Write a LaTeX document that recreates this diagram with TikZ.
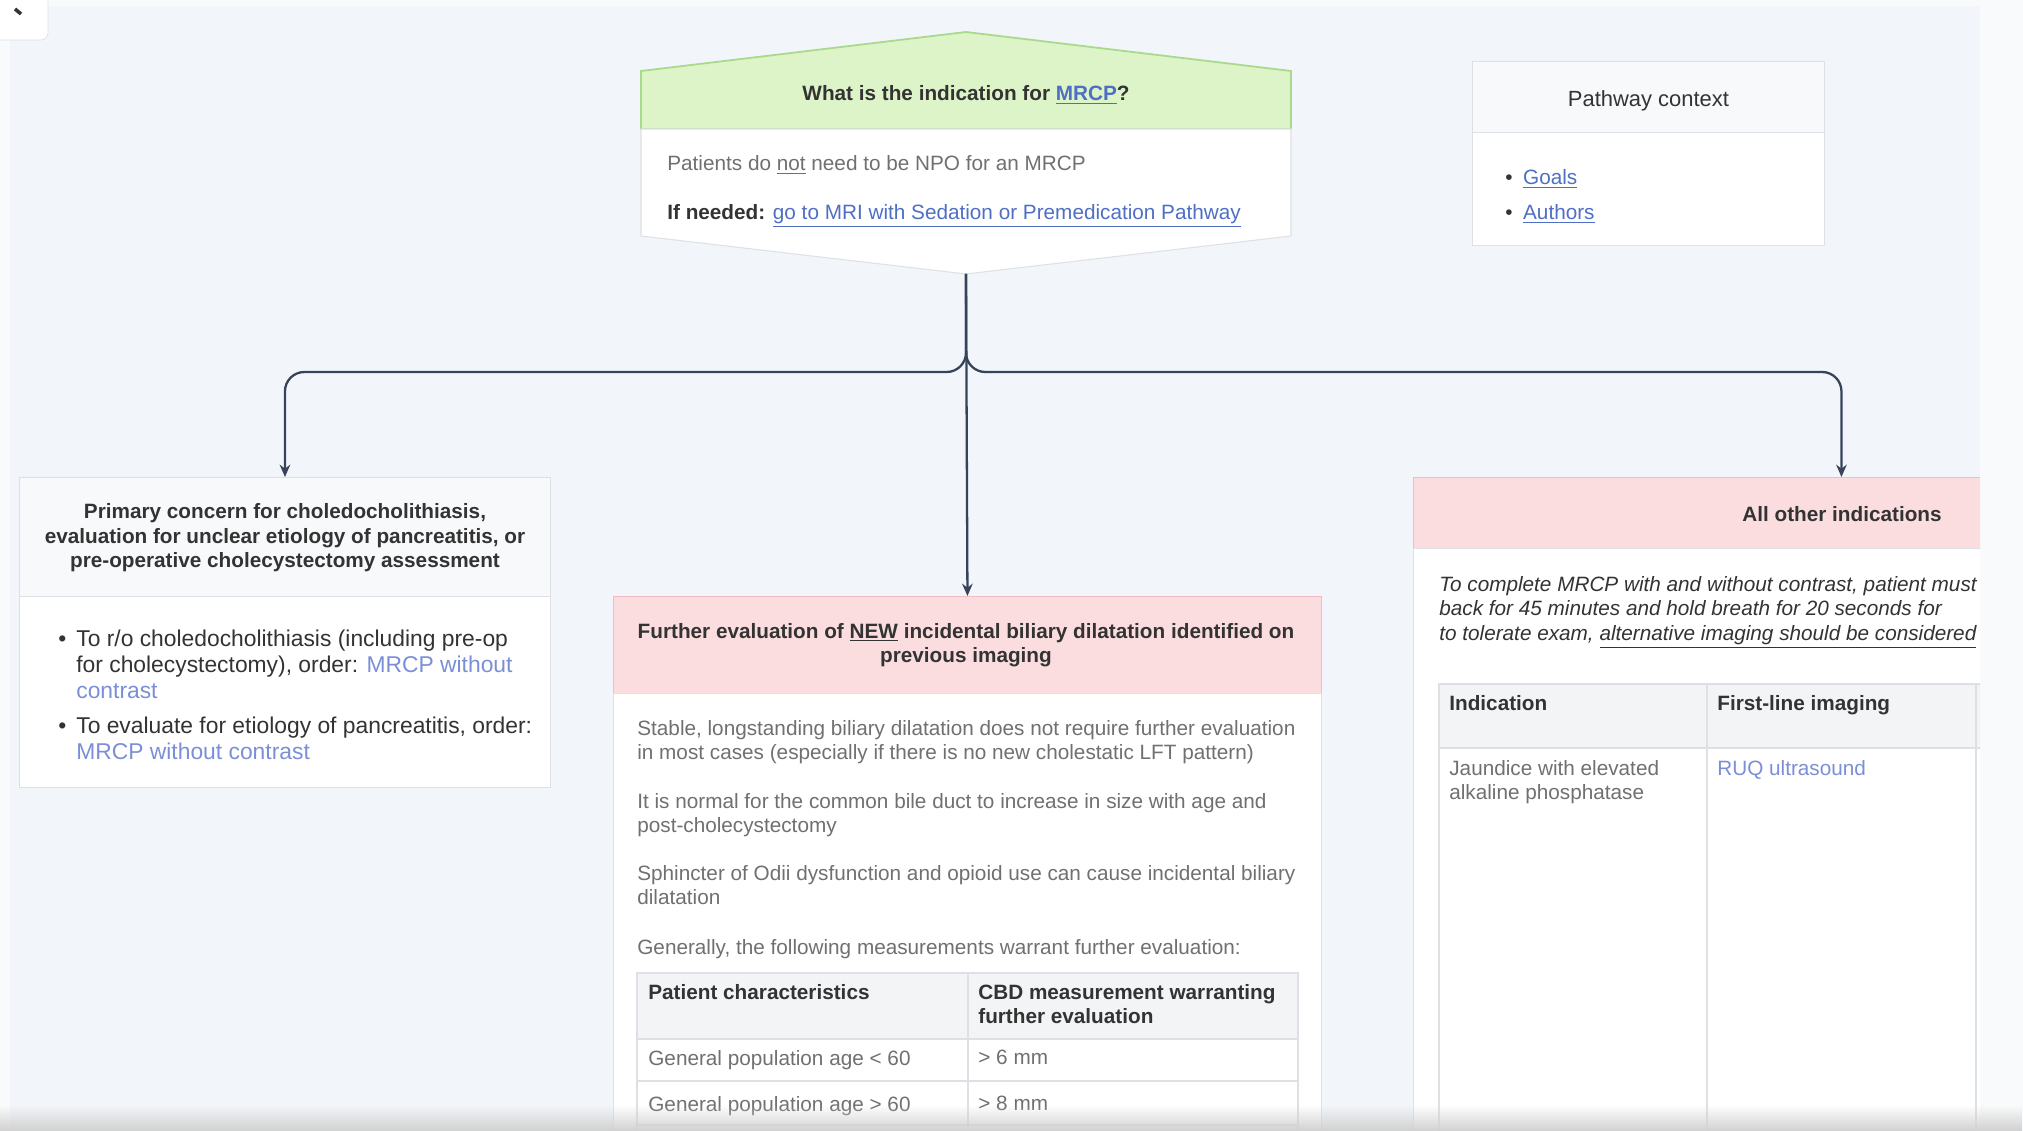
\documentclass[tikz,border=0pt]{standalone}
\usepackage{fontspec}
\setmainfont{Liberation Sans}
\usetikzlibrary{arrows.meta, fadings}
\definecolor{canvas}{HTML}{F2F5F9}
\definecolor{pagewhite}{HTML}{F9FAFB}
\definecolor{greenhead}{HTML}{DDF3C8}
\definecolor{greenline}{HTML}{A9D98B}
\definecolor{pinkhead}{HTML}{FBDDE0}
\definecolor{pinkline}{HTML}{F1BCC2}
\definecolor{greyhead}{HTML}{F8F9FA}
\definecolor{boxline}{HTML}{DDE1E6}
\definecolor{arrowcol}{HTML}{37435A}
\definecolor{bodytext}{HTML}{707070}
\definecolor{darktext}{HTML}{333333}
\definecolor{linkblue}{HTML}{4F6FC4}
\definecolor{lightlink}{HTML}{7B8FD8}
\definecolor{tablehead}{HTML}{F3F4F6}
\begin{document}
\begin{tikzpicture}[x=0.02cm, y=-0.02cm,
  flow/.style = {draw=arrowcol, line width=1.3pt, rounded corners=11pt, -{Stealth[length=7pt, width=6pt]}},
  panel/.style = {draw=boxline, fill=white, line width=0.6pt, anchor=north west, inner sep=0},
  head/.style = {font=\fontsize{11.8}{13.9}\selectfont\bfseries, text=darktext, align=center},
  txt/.style = {font=\fontsize{11.8}{13.9}\selectfont, text=bodytext, align=left, anchor=north west, inner sep=0},
  bold/.style = {font=\fontsize{11.8}{13.9}\selectfont\bfseries, text=darktext},
  big/.style = {font=\fontsize{13}{14.7}\selectfont, text=darktext}]
  \fill[pagewhite] (0,0) rectangle (2023,1131);
  \fill[canvas] (10,6) rectangle (1980,1131);
  \useasboundingbox (0,0) rectangle (2023,1131);
  \filldraw[fill=white, draw=boxline, rounded corners=4pt] (-10,-10) rectangle (48,40);
  \draw[darktext, line width=2pt] (15,9) -- (21,14);
  % decision
  \filldraw[fill=greenhead, draw=greenline, line width=1pt] (641,129) -- (641,71) -- (966,32) -- (1291,71) -- (1291,129) -- cycle;
  \filldraw[fill=white, draw=boxline, line width=0.6pt] (641,129) -- (1291,129) -- (1291,236) -- (966,274) -- (641,236) -- cycle;
  \coordinate (decision) at (966,274);
  \node[head] (question) at (966,95) {What is the indication for \textcolor{linkblue}{\underline{MRCP}}?};
  \node[txt] (npo) at (667,155) {Patients do \underline{not} need to be NPO for an MRCP};
  \node[txt] (ifneeded) at (667,204) {\textcolor{darktext}{\textbf{If needed:}} \textcolor{linkblue}{\underline{go to MRI with Sedation or Premedication Pathway}}};
  % context
  \node[panel, fill=greyhead, minimum width=7.04cm, minimum height=1.42cm] (contexthead) at (1472,61) {};
  \node[panel, minimum width=7.04cm, minimum height=2.26cm] (contextbody) at (1472,132) {};
  \node[font=\fontsize{12.5}{14}\selectfont, text=darktext] (contexttitle) at ([yshift=-2pt]contexthead.center) {Pathway context};
  \node[txt] (goals) at (1505,169) {\textcolor{darktext}{\textbullet}\hspace{6pt}\textcolor{linkblue}{\underline{Goals}}};
  \node[txt] (authors) at (1505,204) {\textcolor{darktext}{\textbullet}\hspace{6pt}\textcolor{linkblue}{\underline{Authors}}};
  % left branch
  \node[panel, fill=greyhead, minimum width=10.62cm, minimum height=2.38cm] (concernhead) at (19,477) {};
  \node[panel, minimum width=10.62cm, minimum height=3.82cm] (concernbody) at (19,596) {};
  \node[head] (concerntitle) at (285,538) {Primary concern for choledocholithiasis,\\ evaluation for unclear etiology of pancreatitis, or\\ pre-operative cholecystectomy assessment};
  \node[txt, big] (stonedot) at (58,628) {\strut\textbullet};
  \node[txt, big] (stones) at (76,628) {\strut To r/o choledocholithiasis (including pre-op\\ for cholecystectomy), order: \textcolor{lightlink}{MRCP without}\\ \textcolor{lightlink}{contrast}};
  \node[txt, big] (pancdot) at (58,715) {\strut\textbullet};
  \node[txt, big] (panc) at (76,715) {\strut To evaluate for etiology of pancreatitis, order:\\ \textcolor{lightlink}{MRCP without contrast}};
  % middle branch
  \node[panel, fill=pinkhead, draw=pinkline, minimum width=14.16cm, minimum height=1.94cm] (dilatationhead) at (613,596) {};
  \node[panel, minimum width=14.16cm, minimum height=8.9cm] (dilatationbody) at (613,693) {};
  \node[head] (dilatationtitle) at (966,645) {Further evaluation of \underline{NEW} incidental biliary dilatation identified on\\ previous imaging};
  \node[txt] (stable) at (637,720) {Stable, longstanding biliary dilatation does not require further evaluation\\ in most cases (especially if there is no new cholestatic LFT pattern)};
  \node[txt] (normal) at (637,793) {It is normal for the common bile duct to increase in size with age and\\ post-cholecystectomy};
  \node[txt] (sphincter) at (637,865) {Sphincter of Odii dysfunction and opioid use can cause incidental biliary\\ dilatation};
  \node[txt] (generally) at (637,939) {Generally, the following measurements warrant further evaluation:};
  \filldraw[fill=tablehead, draw=boxline, line width=0.6pt] (637,973) rectangle (1298,1039);
  \draw[boxline, line width=0.6pt] (637,1039) -- (637,1140) (968,973) -- (968,1140) (1298,1039) -- (1298,1140);
  \foreach \y in {1081,1125}
    \draw[boxline, line width=0.6pt] (637,\y) -- (1298,\y);
  \node[txt, bold] (patienthead) at (648,984) {Patient characteristics};
  \node[txt, bold] (cbdhead) at (978,984) {CBD measurement warranting\\ further evaluation};
  \node[txt] (under60) at (648,1050) {General population age < 60};
  \node[txt] (six) at (978,1050) {> 6 mm};
  \node[txt] (over60) at (648,1096) {General population age > 60};
  \node[txt] (eight) at (978,1096) {> 8 mm};
  % right branch
  \begin{scope}
    \clip (0,0) rectangle (1980,1131);
    \node[panel, fill=pinkhead, draw=pinkline, minimum width=17.12cm, minimum height=1.42cm] (otherhead) at (1413,477) {};
    \node[panel, minimum width=17.12cm, minimum height=11.8cm] (otherbody) at (1413,548) {};
    \node[head] (othertitle) at (1842,514) {All other indications};
    \node[txt, text=darktext, font=\fontsize{11.8}{13.9}\selectfont\itshape] (contrastnote) at (1439,576) {To complete MRCP with and without contrast, patient must\\ back for 45 minutes and hold breath for 20 seconds for\\ to tolerate exam, \underline{alternative imaging should be considered}};
    \filldraw[fill=tablehead, draw=boxline, line width=0.6pt] (1439,684) rectangle (2100,748);
    \draw[boxline, line width=0.6pt] (1439,748) -- (1439,1140) (1707,684) -- (1707,1140) (1976,684) -- (1976,1140);
    \node[txt, bold] (indicationhead) at (1449,695) {Indication};
    \node[txt, bold] (imaginghead) at (1717,695) {First-line imaging};
    \node[txt] (jaundice) at (1449,760) {Jaundice with elevated\\ alkaline phosphatase};
    \node[txt, text=lightlink] (ruq) at (1717,760) {RUQ ultrasound};
  \end{scope}
  % arrows
  \coordinate (split) at (966,372);
  \draw[flow] (decision) -- (split) -| (concernhead.north);
  \draw[flow] (decision) -- (split) -| (otherhead.north);
  \draw[flow] (decision) -- (dilatationhead.north);
  \fill[black!18, path fading=north] (0,1105) rectangle (2023,1131);
\end{tikzpicture}
\end{document}
